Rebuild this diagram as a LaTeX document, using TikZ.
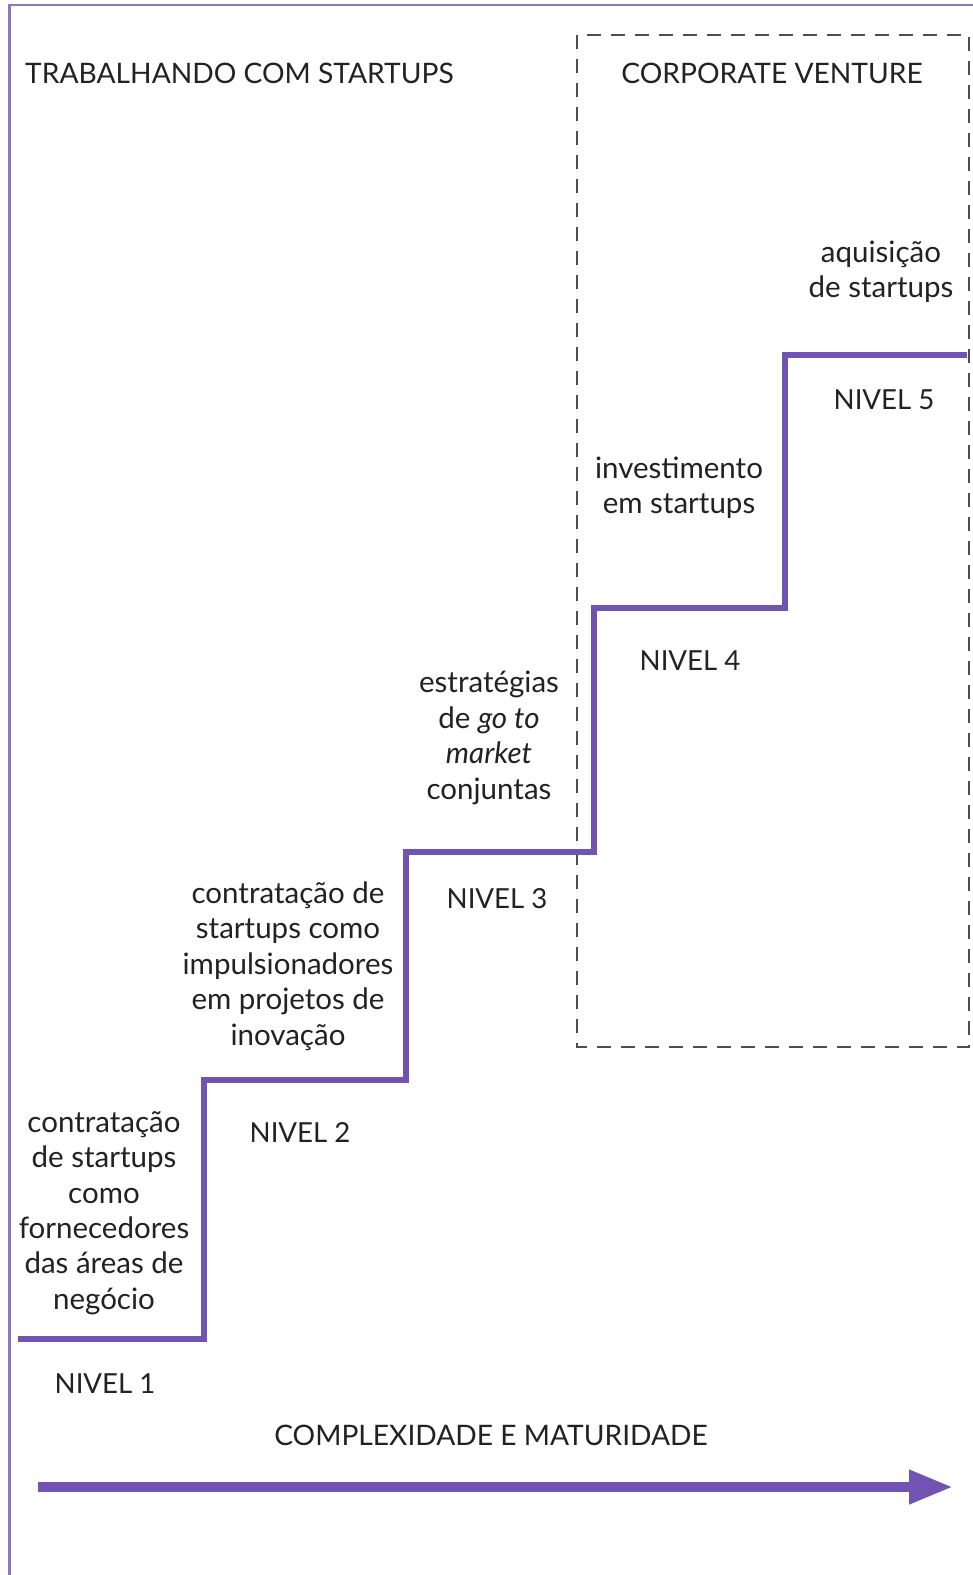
\documentclass[tikz,border=0pt]{standalone}
\usepackage{fontspec}
\setmainfont{Lato}
\usetikzlibrary{arrows.meta}
\definecolor{stair}{HTML}{7153B2}
\definecolor{frame}{HTML}{8A76C6}
\definecolor{ink}{HTML}{222222}
\tikzset{
  label/.style={text=ink, font=\fontsize{29.5}{35.4}\selectfont, align=center, inner sep=0pt},
  caps/.style={text=ink, font=\fontsize{28.2}{34}\selectfont, align=center, inner sep=0pt},
  level/.style={caps, font=\fontsize{27.6}{34}\selectfont},
  stairline/.style={draw=stair, line width=6pt, line join=miter},
}
\begin{document}
\begin{tikzpicture}[x=1pt,y=-1pt]
\useasboundingbox (0,0) rectangle (973,1575);
\fill[white] (0,0) rectangle (973,1575);
% outer frame: top and left edges only
\draw[frame, line width=2.5pt] (9.5,1575) -- (9.5,5) -- (973,5);
% corporate venture region
\draw[ink!80, line width=1.4pt, dash pattern=on 14pt off 10pt] (577,35) rectangle (969,1047);
% titles
\node[caps, anchor=west] (t1) at (25,73) {TRABALHANDO COM STARTUPS};
\node[caps] (t2) at (772,73) {CORPORATE VENTURE};
% staircase
\coordinate (s0) at (18,1339);
\coordinate (s1) at (204,1339);
\coordinate (s2) at (204,1080);
\coordinate (s3) at (406,1080);
\coordinate (s4) at (406,852);
\coordinate (s5) at (594,852);
\coordinate (s6) at (594,608);
\coordinate (s7) at (785,608);
\coordinate (s8) at (785,355);
\coordinate (s9) at (967,355);
\draw[stairline] (s0) -- (s1) -- (s2) -- (s3) -- (s4) -- (s5) -- (s6) -- (s7) -- (s8) -- (s9);
% step descriptions
\node[label] (d1) at (104,1213) {contratação\\de startups\\como\\fornecedores\\das áreas de\\negócio};
\node[label] (d2) at (288,966) {contratação de\\startups como\\impulsionadores\\em projetos de\\inovação};
\node[label] (d3) at (489,738) {estratégias\\de \textit{go to}\\\textit{market}\\conjuntas};
\node[label] (d4) at (679,488) {investimento\\em startups};
\node[label] (d5) at (881,272) {aquisição\\de startups};
% level names
\node[level] (n1) at (105,1384) {NIVEL 1};
\node[level] (n2) at (300,1132) {NIVEL 2};
\node[level] (n3) at (497,899) {NIVEL 3};
\node[level] (n4) at (690,661) {NIVEL 4};
\node[level] (n5) at (884,400) {NIVEL 5};
% axis
\node[caps] (ax) at (491,1435) {COMPLEXIDADE E MATURIDADE};
\coordinate (a0) at (38,1487);
\coordinate (a1) at (953,1487);
\draw[stair, line width=10pt, -{Triangle[length=44pt,width=32pt]}] (a0) -- (a1);
\end{tikzpicture}
\end{document}
